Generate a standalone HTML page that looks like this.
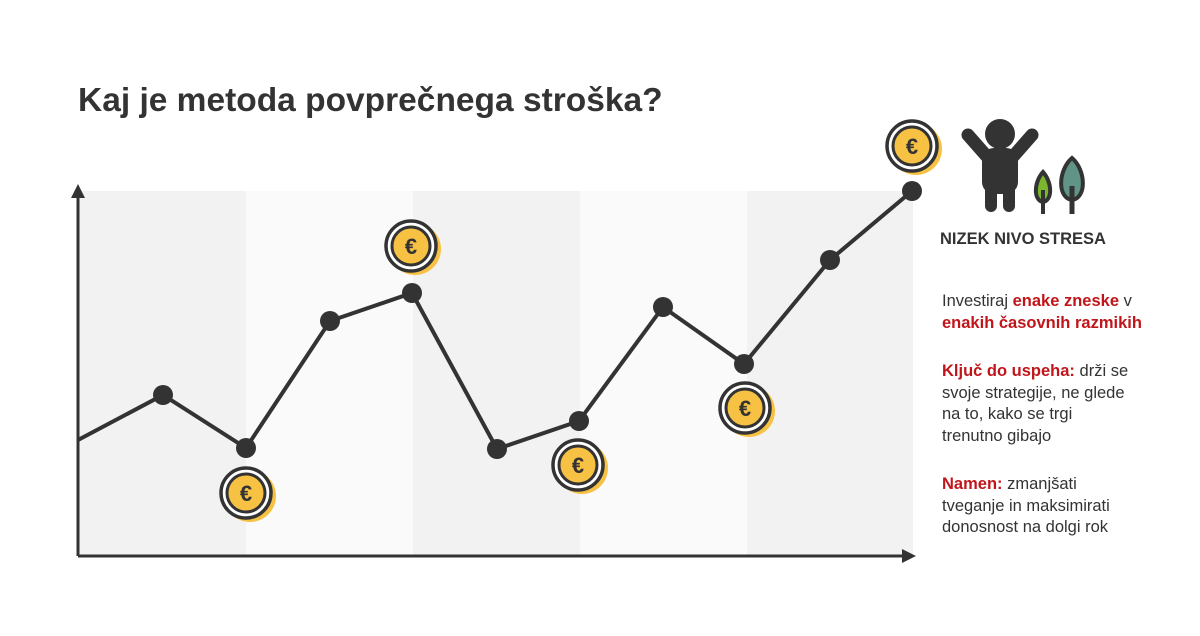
<!DOCTYPE html><html><head><style>
body{margin:0;width:1200px;height:636px;background:#fff;font-family:"Liberation Sans",sans-serif;overflow:hidden;position:relative}
h1{position:absolute;left:78px;top:82px;margin:0;font-size:33.5px;font-weight:bold;color:#333}
.t{position:absolute;left:942px;font-size:16.5px;line-height:21.5px;color:#333}
.r{color:#c0161b;font-weight:bold}
</style></head><body>
<h1>Kaj je metoda povprečnega stroška?</h1>
<svg width="1200" height="636" style="position:absolute;left:0;top:0">
<defs><g id="c"><circle cx="4" cy="3" r="26" fill="#f7c243"/><circle r="25" fill="#fff" stroke="#333" stroke-width="3.5"/><circle r="19" fill="#f7c243" stroke="#333" stroke-width="3"/><text y="8" text-anchor="middle" font-size="22" font-weight="bold" fill="#333" font-family="Liberation Sans">€</text></g></defs>
<rect x="78" y="191" width="168" height="365" fill="#f2f2f2"/>
<rect x="246" y="191" width="167" height="365" fill="#fafafa"/>
<rect x="413" y="191" width="167" height="365" fill="#f2f2f2"/>
<rect x="580" y="191" width="167" height="365" fill="#fafafa"/>
<rect x="747" y="191" width="166" height="365" fill="#f2f2f2"/>
<path d="M78 556V190M78 556H908" stroke="#333" stroke-width="3"/>
<path d="M71 198L78 184L85 198Z M902 549L916 556L902 563Z" fill="#333"/>
<polyline points="78,440 163,395 246,448 330,321 412,293 497,449 579,421 663,307 744,364 830,260 912,191" fill="none" stroke="#333" stroke-width="4"/>
<g fill="#333"><circle cx="163" cy="395" r="10"/><circle cx="246" cy="448" r="10"/><circle cx="330" cy="321" r="10"/><circle cx="412" cy="293" r="10"/><circle cx="497" cy="449" r="10"/><circle cx="579" cy="421" r="10"/><circle cx="663" cy="307" r="10"/><circle cx="744" cy="364" r="10"/><circle cx="830" cy="260" r="10"/><circle cx="912" cy="191" r="10"/></g>
<use href="#c" x="246" y="493"/><use href="#c" x="411" y="246"/><use href="#c" x="578" y="465"/><use href="#c" x="745" y="408"/><use href="#c" x="912" y="146"/>
<g fill="#333" stroke="#333"><circle cx="1000" cy="134" r="15" stroke="none"/>
<path d="M968 135L990 160M1032 135L1010 160" stroke-width="13" stroke-linecap="round"/>
<rect x="982" y="148" width="36" height="46" rx="12" stroke="none"/>
<path d="M991 190V206M1009 190V206" stroke-width="12" stroke-linecap="round"/></g>
<path d="M1043 172C1034 182 1033 200 1043 202C1053 200 1052 182 1043 172Z" fill="#7ab72c" stroke="#333" stroke-width="4"/>
<path d="M1043 190V214" stroke="#333" stroke-width="4"/>
<path d="M1072 158C1058 170 1057 198 1072 200C1087 198 1086 170 1072 158Z" fill="#5f9487" stroke="#333" stroke-width="4"/>
<path d="M1072 186V214" stroke="#333" stroke-width="5"/>
</svg>
<div class="t" style="top:229px;font-weight:bold;font-size:16.5px;left:940px">NIZEK NIVO STRESA</div>
<div class="t" style="top:291px">Investiraj <span class="r">enake zneske</span> v<br><span class="r">enakih časovnih razmikih</span></div>
<div class="t" style="top:361px"><span class="r">Ključ do uspeha:</span> drži se<br>svoje strategije, ne glede<br>na to, kako se trgi<br>trenutno gibajo</div>
<div class="t" style="top:474px"><span class="r">Namen:</span> zmanjšati<br>tveganje in maksimirati<br>donosnost na dolgi rok</div>
</body></html>
